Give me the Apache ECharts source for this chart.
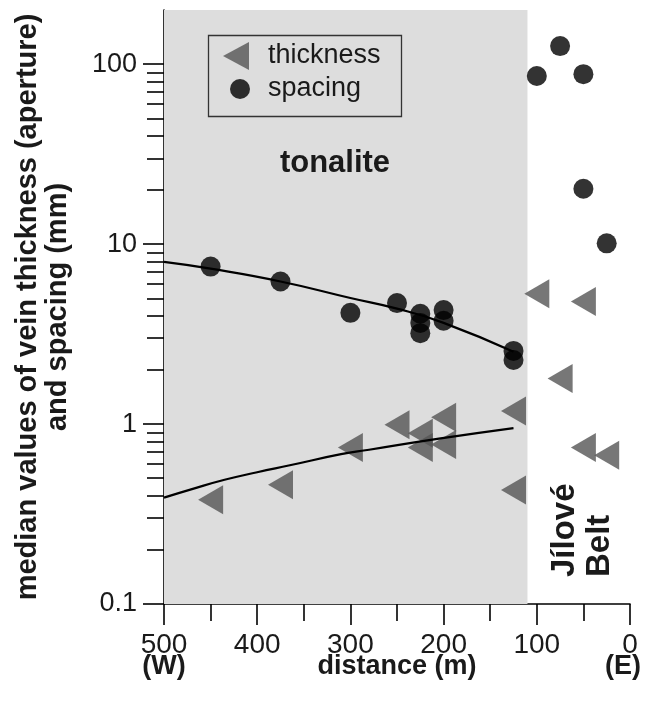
<!DOCTYPE html>
<html>
<head>
<meta charset="utf-8">
<script src="https://cdn.jsdelivr.net/npm/echarts@6/dist/echarts.min.js"></script>
<style>
  html, body { margin: 0; padding: 0; background: #ffffff; }
  #chart { width: 645px; height: 710px; }
</style>
</head>
<body>
<div id="chart"></div>
<script>
// Median vein spacing (mm) against distance from the contact (m)
const spacingDist = [450, 375, 300, 250, 225, 225, 225, 200, 200, 125, 125, 100, 75, 50, 50, 25];
const spacingVal  = [7.5, 6.2, 4.15, 4.7, 4.1, 3.65, 3.2, 4.3, 3.75, 2.55, 2.27, 86, 126, 88, 20.3, 10.1];

// Median vein thickness (aperture, mm) against distance (m)
const thickDist = [450, 375, 300, 250, 225, 225, 200, 200, 125, 125, 100, 75, 50, 50, 25];
const thickVal  = [0.38, 0.46, 0.74, 0.99, 0.89, 0.74, 1.09, 0.77, 1.18, 0.43, 5.3, 1.79, 4.8, 0.74, 0.67];

// Trend curves through the tonalite samples
const spacingFitDist = [500, 450, 375, 300, 250, 200, 125];
const spacingFitVal  = [7.96, 7.3, 6.2, 5.02, 4.38, 3.65, 2.52];
const thickFitDist = [500, 470, 435, 400, 365, 310, 280, 205, 125];
const thickFitVal  = [0.39, 0.435, 0.49, 0.54, 0.59, 0.68, 0.72, 0.83, 0.95];

// Axis ticks
const xMajorStep = 100;
const yMajorTicks = [0.1, 1, 10, 100];
const yMinorTicks = [0.2, 0.3, 0.4, 0.5, 0.6, 0.7, 0.8, 0.9, 2, 3, 4, 5, 6, 7, 8, 9, 20, 30, 40, 50, 60, 70, 80, 90];

// Extent of the tonalite body (distance, m)
const tonaliteFrom = 500;
const tonaliteTo = 110;

const FONT = '"Liberation Sans", Arial, Helvetica, sans-serif';
const INK = '#1a1a1a';
const pairs = (xs, ys) => xs.map((x, i) => [x, ys[i]]);

const GRID = { left: 164, right: 15, top: 10, bottom: 106, containLabel: false, outerBoundsMode: 'none' };

const chart = echarts.init(document.getElementById('chart'), null, { renderer: 'canvas' });

const axisLineStyle = { color: '#000', width: 1.6 };

chart.setOption({
  animation: false,
  backgroundColor: '#ffffff',
  textStyle: { fontFamily: FONT },
  // grid 0 carries the data; grid 1 overlays it only to draw the minor log ticks
  grid: [Object.assign({}, GRID), Object.assign({}, GRID)],
  xAxis: [
    {
      gridIndex: 0,
      type: 'value', min: 0, max: 500, interval: xMajorStep, inverse: true,
      axisLine: { show: true, onZero: false, lineStyle: axisLineStyle },
      axisTick: { show: true, length: 21, lineStyle: axisLineStyle },
      minorTick: { show: true, splitNumber: 2, length: 17, lineStyle: axisLineStyle },
      splitLine: { show: false },
      minorSplitLine: { show: false },
      axisLabel: {
        margin: 30, fontSize: 28, color: INK, fontFamily: FONT, lineHeight: 22,
        formatter: v => v === 500 ? '500\n{side|(W)}' : (v === 0 ? '0\n{east|(E)}' : String(v)),
        rich: {
          side: { fontSize: 27, fontWeight: 'bold', color: INK, fontFamily: FONT, lineHeight: 22 },
          east: { fontSize: 27, fontWeight: 'bold', color: INK, fontFamily: FONT, lineHeight: 22, padding: [0, 14, 0, 0] }
        }
      },
      name: 'distance (m)', nameLocation: 'middle', nameGap: 52, nameMoveOverlap: false,
      nameTextStyle: { fontSize: 27, fontWeight: 'bold', color: INK, fontFamily: FONT, lineHeight: 22, verticalAlign: 'top' }
    },
    {
      gridIndex: 1, type: 'value', min: 0, max: 500, inverse: true, show: false
    }
  ],
  yAxis: [
    {
      gridIndex: 0,
      type: 'log', logBase: 10, min: 0.1, max: 200, position: 'left',
      axisLine: { show: true, onZero: false, lineStyle: axisLineStyle },
      axisTick: { show: true, length: 21, lineStyle: axisLineStyle, customValues: yMajorTicks },
      splitLine: { show: false },
      axisLabel: { margin: 27, fontSize: 27, color: INK, fontFamily: FONT, customValues: yMajorTicks,
        formatter: v => String(v) },
      name: 'median values of vein thickness (aperture)\nand spacing (mm)',
      nameLocation: 'middle', nameGap: 91, nameMoveOverlap: false,
      nameTextStyle: { fontSize: 29, fontWeight: 'bold', color: INK, fontFamily: FONT, lineHeight: 30, align: 'center' }
    },
    {
      gridIndex: 1,
      type: 'log', logBase: 10, min: 0.1, max: 200, position: 'left',
      axisLine: { show: false, onZero: false },
      axisTick: { show: true, length: 17, lineStyle: axisLineStyle, customValues: yMinorTicks },
      axisLabel: { show: false },
      splitLine: { show: false }
    }
  ],
  legend: [
    {
      left: 223, top: 42, padding: 0, orient: 'vertical', selectedMode: false,
      itemWidth: 26, itemHeight: 28,
      data: [{ name: 'thickness', icon: 'path://M0,14 L26,0 L26,28 Z' }],
      textStyle: { fontSize: 27, color: INK, fontFamily: FONT, padding: [0, 0, 0, 14] }
    },
    {
      left: 230, top: 75.5, padding: 0, orient: 'vertical', selectedMode: false,
      itemWidth: 20, itemHeight: 20,
      data: [{ name: 'spacing', icon: 'circle' }],
      textStyle: { fontSize: 27, color: INK, fontFamily: FONT, padding: [0, 0, 0, 13] }
    }
  ],
  graphic: [
    { type: 'rect', left: 206, top: 33, z: 50, silent: true,
      shape: { width: 193, height: 81 },
      style: { fill: 'none', stroke: '#333', lineWidth: 1.3 } },
    { type: 'text', x: 335, y: 163, z: 50, silent: true,
      style: { text: 'tonalite', font: 'bold 31px ' + FONT, fill: INK, textAlign: 'center', textVerticalAlign: 'middle' } },
    { type: 'text', x: 565, y: 577, rotation: Math.PI / 2, z: 50, silent: true,
      style: { text: 'Jílové', font: 'bold 33px ' + FONT, fill: INK, textAlign: 'left', textVerticalAlign: 'middle' } },
    { type: 'text', x: 600, y: 577, rotation: Math.PI / 2, z: 50, silent: true,
      style: { text: 'Belt', font: 'bold 33px ' + FONT, fill: INK, textAlign: 'left', textVerticalAlign: 'middle' } }
  ],
  series: [
    {
      name: 'tonalite body', type: 'line', data: [], z: 1, silent: true,
      markArea: {
        silent: true,
        itemStyle: { color: '#dddddd' },
        data: [[{ xAxis: tonaliteFrom }, { xAxis: tonaliteTo }]]
      }
    },
    {
      name: 'thickness', type: 'scatter', z: 3,
      data: pairs(thickDist, thickVal),
      symbol: 'triangle', symbolSize: [29, 25], symbolRotate: 90,
      itemStyle: { color: '#555555' }
    },
    {
      name: 'thickness trend', type: 'line', z: 4, smooth: true, symbol: 'none',
      data: pairs(thickFitDist, thickFitVal),
      lineStyle: { color: '#000', width: 2.2 }
    },
    {
      name: 'spacing trend', type: 'line', z: 4, smooth: true, symbol: 'none',
      data: pairs(spacingFitDist, spacingFitVal),
      lineStyle: { color: '#000', width: 2.2 }
    },
    {
      name: 'spacing', type: 'scatter', z: 5,
      data: pairs(spacingDist, spacingVal),
      symbol: 'circle', symbolSize: 20,
      itemStyle: { color: '#000000' }
    }
  ]
});
</script>
</body>
</html>
